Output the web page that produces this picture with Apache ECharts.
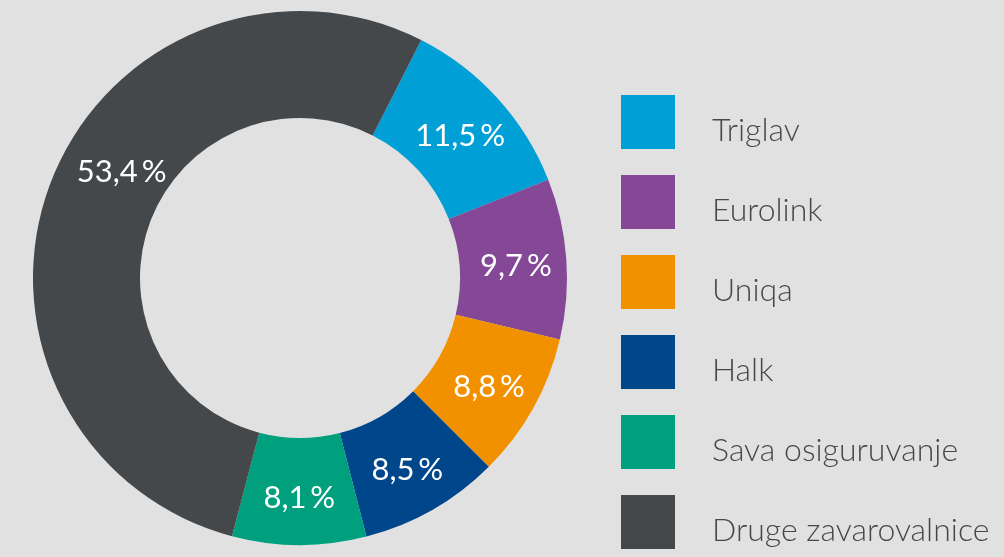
<!DOCTYPE html>
<html>
<head>
<meta charset="utf-8">
<script src="https://cdn.jsdelivr.net/npm/echarts@6/dist/echarts.min.js"></script>
<style>
html,body{margin:0;padding:0;background:#e1e1e1;}
#chart{width:1004px;height:557px;}
</style>
</head>
<body>
<div id="chart"></div>
<script>
const categories = ['Triglav', 'Eurolink', 'Uniqa', 'Halk', 'Sava osiguruvanje', 'Druge zavarovalnice'];
const shares = [11.5, 9.7, 8.8, 8.5, 8.1, 53.4];
const colors = ['#00a0d6', '#844896', '#f29100', '#00468b', '#00a07e', '#44484b'];

const chart = echarts.init(document.getElementById('chart'));
const data = categories.map((name, i) => {
  const d = { name: name, value: shares[i], itemStyle: { color: colors[i] } };
  if (i === 5) d.label = { offset: [24, -29] };
  return d;
});
chart.setOption({
  backgroundColor: '#e1e1e1',
  animation: false,
  legend: {
    orient: 'vertical',
    left: 621,
    top: 95,
    height: 500,
    padding: 0,
    itemWidth: 54,
    itemHeight: 54,
    itemGap: 26,
    icon: 'rect',
    selectedMode: false,
    data: categories,
    formatter: '{s| }\n{name}',
    textStyle: {
      fontFamily: 'Lato',
      fontWeight: 300,
      fontSize: 32,
      color: '#45484b',
      padding: [0, 0, 0, 32],
      rich: {
        s: { fontSize: 10, height: 18, lineHeight: 18 }
      }
    }
  },
  series: [{
    type: 'pie',
    center: [300, 278],
    radius: [160, 267],
    startAngle: 63,
    clockwise: true,
    data: data,
    label: {
      position: 'inside',
      color: '#ffffff',
      fontFamily: 'Lato',
      fontSize: 31,
      offset: [0, 4],
      formatter: p => String(p.value).replace('.', ',') + '\u2009%'
    },
    labelLine: { show: false },
    emphasis: { disabled: true }
  }]
});
</script>
</body>
</html>
